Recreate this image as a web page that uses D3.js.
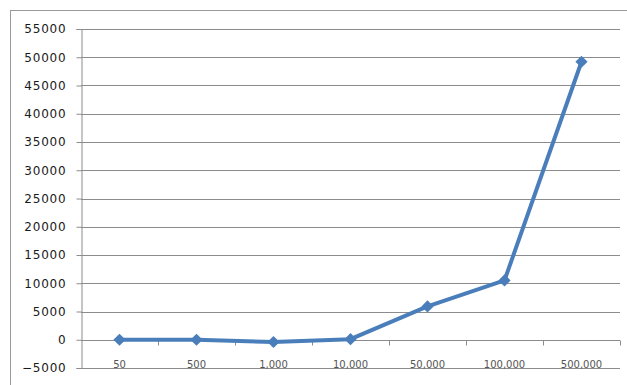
<!DOCTYPE html>
<html>
<head>
<meta charset="utf-8">
<script src="https://cdn.jsdelivr.net/npm/d3@7"></script>
<style>
  html, body { margin: 0; padding: 0; background: #fff; }
  svg { display: block; }
</style>
</head>
<body>
<svg id="chart" width="627" height="385"></svg>
<script>
// Category labels along the horizontal axis
const categories = ["50", "500", "1,000", "10,000", "50,000", "100,000", "500,000"];
// Series values, one per category
const values = [0, 0, -400, 100, 5900, 10500, 49200];
// Vertical axis ticks
const yTicks = [-5000, 0, 5000, 10000, 15000, 20000, 25000, 30000, 35000, 40000, 45000, 50000, 55000];

const svg = d3.select("#chart");
const margin = { left: 81, right: 7, top: 29, bottom: 17 };
const W = 627, H = 385;

// outer chart frame
svg.append("rect")
  .attr("x", 10.5).attr("y", 10.5)
  .attr("width", 640).attr("height", 400)
  .attr("fill", "none").attr("stroke", "#9a9a9a").attr("stroke-width", 1);

const x = d3.scaleBand()
  .domain(categories)
  .range([margin.left, W - margin.right])
  .paddingInner(0).paddingOuter(0);

const y = d3.scaleLinear()
  .domain([-5000, 55000])
  .range([H - margin.bottom, margin.top]);

// horizontal gridlines
svg.append("g")
  .selectAll("line")
  .data(yTicks)
  .join("line")
  .attr("x1", margin.left).attr("x2", W - margin.right)
  .attr("y1", d => Math.round(y(d)) + 0.5).attr("y2", d => Math.round(y(d)) + 0.5)
  .attr("stroke", "#8c8c8c").attr("stroke-width", 1);

// vertical axis
const yAxis = svg.append("g")
  .attr("transform", `translate(${margin.left + 0.5},0)`)
  .call(d3.axisLeft(y).tickValues(yTicks).tickSize(5).tickPadding(10).tickFormat(d3.format("d")));
yAxis.select(".domain").attr("stroke", "#8c8c8c");
yAxis.selectAll(".tick line").attr("stroke", "#8c8c8c");
yAxis.selectAll(".tick text")
  .attr("fill", "#1a1a1a")
  .style("font-family", "'DejaVu Sans', Verdana, sans-serif")
  .style("font-size", "12px")
  .style("letter-spacing", "0.8px");

// horizontal axis sits on the zero line, with ticks between categories
const xAxisG = svg.append("g")
  .attr("transform", `translate(0,${Math.round(y(0)) + 0.5})`);
xAxisG.append("line")
  .attr("x1", margin.left).attr("x2", W - margin.right)
  .attr("stroke", "#8c8c8c");
const edges = categories.map(c => x(c) + x.bandwidth());
xAxisG.selectAll("line.tk")
  .data(edges)
  .join("line")
  .attr("class", "tk")
  .attr("x1", d => Math.round(d) + 0.5).attr("x2", d => Math.round(d) + 0.5)
  .attr("y1", 0).attr("y2", 5)
  .attr("stroke", "#8c8c8c");
xAxisG.selectAll("text")
  .data(categories)
  .join("text")
  .attr("x", d => x(d) + x.bandwidth() / 2)
  .attr("y", 27)
  .attr("text-anchor", "middle")
  .attr("fill", "#555")
  .style("font-family", "'DejaVu Sans', Verdana, sans-serif")
  .style("font-size", "10px")
  .text(d => d);

// the series line
const line = d3.line()
  .x((d, i) => x(categories[i]) + x.bandwidth() / 2)
  .y(d => y(d));
svg.append("path")
  .datum(values)
  .attr("d", line)
  .attr("fill", "none")
  .attr("stroke", "#4a7ebb")
  .attr("stroke-width", 4)
  .attr("stroke-linejoin", "round");

// diamond markers
svg.append("g")
  .selectAll("path")
  .data(values)
  .join("path")
  .attr("transform", (d, i) => `translate(${x(categories[i]) + x.bandwidth() / 2},${y(d)})`)
  .attr("d", d3.symbol(d3.symbolDiamond2, 95)())
  .attr("fill", "#4a7ebb");
</script>
</body>
</html>
